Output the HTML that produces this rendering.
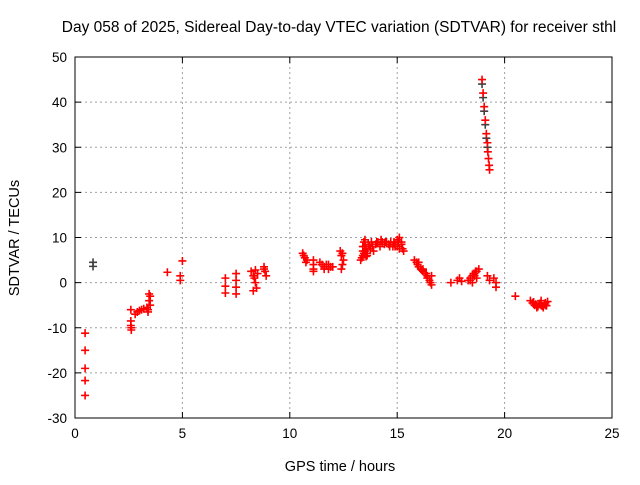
<!DOCTYPE html>
<html><head><meta charset="utf-8"><style>
body{margin:0;background:#fff;}
svg{font-family:"Liberation Sans",sans-serif;}
</style></head><body>
<svg id="chart" width="640" height="480">
<text x="339" y="32" text-anchor="middle" font-size="15.5">Day 058 of 2025, Sidereal Day-to-day VTEC variation (SDTVAR) for receiver sthl</text>
<text x="340" y="471" text-anchor="middle" font-size="14.5">GPS time / hours</text>
<text x="19" y="238" text-anchor="middle" font-size="14.5" transform="rotate(-90 19 238)">SDTVAR / TECUs</text>
<g id="grid"></g><g id="axes"></g><g id="pts"></g>
</svg>
<script>
const xTicks=[0,5,10,15,20,25];
const yTicks=[-30,-20,-10,0,10,20,30,40,50];
const redT=[0.47,0.47,0.47,0.47,0.47,
2.6,2.6,2.6,2.62,2.62,2.8,2.9,3.0,3.1,3.2,3.35,3.4,3.45,3.5,3.45,3.4,3.5,
4.3,4.9,4.9,5.0,
7.0,7.0,7.0,7.5,7.5,7.5,7.5,
8.2,8.3,8.35,8.4,8.45,8.3,8.4,8.5,8.8,8.85,8.9,8.8,
10.6,10.7,10.8,10.75,10.65,11.1,11.1,11.1,11.1,
11.4,11.5,11.6,11.7,11.8,11.9,12.0,11.6,11.8,
12.35,12.4,12.45,12.4,12.5,12.45,
13.3,13.4,13.5,13.4,13.6,13.7,13.8,13.5,13.9,14.0,14.1,14.2,14.3,14.4,14.5,14.6,14.7,14.8,14.9,15.0,15.1,15.2,15.0,15.1,15.2,15.3,14.9,
13.35,13.45,13.55,13.65,13.4,13.5,13.6,13.75,13.85,14.05,14.25,14.45,14.65,14.85,15.05,15.25,13.45,13.55,
15.8,15.9,16.0,16.1,16.2,16.3,16.4,16.5,16.6,16.6,16.0,16.2,16.4,15.95,16.15,16.35,16.55,
17.5,17.8,17.9,18.0,
18.3,18.4,18.5,18.6,18.7,18.8,18.5,18.7,18.4,18.6,18.55,18.65,
19.2,19.3,19.5,19.6,19.6,
18.95,19.0,19.05,19.1,19.15,19.2,19.22,19.25,19.28,19.3,
20.5,
21.2,21.3,21.4,21.5,21.6,21.7,21.8,21.9,22.0,21.5,21.7,21.9,21.35,21.45,21.55,21.65,21.75,21.85,21.95];
const redV=[-11.2,-15,-19,-21.7,-25,
-6,-8.5,-9.5,-10,-10.5,-7,-6.5,-6.2,-6,-5.8,-5.5,-6,-4,-3,-2.5,-6.5,-5,
2.3,1.5,0.5,4.8,
1,-0.8,-2.3,2,0.5,-1,-2.5,
2.5,1.5,1,0,-1.2,-1.8,2.8,2,3.5,2.5,1.5,3,
6.5,5.5,5,4.5,6,5,4,3,2.5,
4.5,4,3.5,4,3,3.5,3.5,3,4,
7,6,4,3,5,6.5,
5,6,7,8,6.5,8,9,9.5,7,8.5,9,8,9,8.5,9,8.5,9,8,8.5,9.5,10,9,8,7.5,8.5,7,8,
5.5,6.5,7.5,8.5,7,8,6,7.5,8,9,9.5,9,8,9,9,7.5,9,5.8,
5,4.5,3.5,3,2.5,2,1.5,0.5,-0.5,1.5,4.5,3,1,4,2.8,2,0,
0,0.5,1,0.3,
0.5,1,1.5,2,2.5,3,0,1,0.5,1.5,2,2.5,
1.5,0.5,1,0,-1,
45,42,39,36,33,31,29,27.5,26,25,
-3,
-4,-4.5,-5,-5.2,-4.8,-5,-5.5,-4.5,-4.2,-5.5,-4,-5,-4.3,-4.8,-5.3,-4.6,-5.2,-4.7,-5.1];
const grayT=[0.84,0.84,18.95,19.0,19.05,19.1,19.15,19.2];
const grayV=[4.5,3.6,44,41,38,35,32,30];
const L=75,R=612,T=57,B=418;
const X=h=>L+(h-0)/25*(R-L);
const Y=v=>B-(v+30)/80*(B-T);
const NS='http://www.w3.org/2000/svg';
function mk(tag,attrs,parent){const e=document.createElementNS(NS,tag);for(const k in attrs)e.setAttribute(k,attrs[k]);parent.appendChild(e);return e;}
const grid=document.getElementById('grid'),axes=document.getElementById('axes'),pts=document.getElementById('pts');
xTicks.forEach(t=>{
 if(t>0&&t<25){const g=mk('line',{x1:X(t),x2:X(t),y1:T,y2:B,stroke:'#a0a0a0','stroke-dasharray':'2,3'},grid);
 
 }
 mk('line',{x1:X(t),x2:X(t),y1:B,y2:B-6,stroke:'#000'},axes);
 mk('line',{x1:X(t),x2:X(t),y1:T,y2:T+6,stroke:'#000'},axes);
 const tx=mk('text',{x:X(t),y:B+20,'text-anchor':'middle','font-size':13.5},axes);tx.textContent=t;
 
 
});
yTicks.forEach(t=>{
 if(t>-30&&t<50){const g=mk('line',{x1:L,x2:R,y1:Y(t),y2:Y(t),stroke:'#a0a0a0','stroke-dasharray':'2,3'},grid);
 
 }
 mk('line',{x1:L,x2:L+6,y1:Y(t),y2:Y(t),stroke:'#000'},axes);
 mk('line',{x1:R,x2:R-6,y1:Y(t),y2:Y(t),stroke:'#000'},axes);
 const tx=mk('text',{x:L-8,y:Y(t)+5,'text-anchor':'end','font-size':13.5},axes);tx.textContent=t;
 
 
});
const fr=mk('rect',{x:L,y:T,width:R-L,height:B-T,fill:'none',stroke:'#000'},axes);


function plus(h,v,c,name){
 const x=X(h),y=Y(v);
 const p=mk('path',{d:`M${x-4},${y}H${x+4}M${x},${y-4}V${y+4}`,stroke:c,'stroke-width':1.6,fill:'none'},pts);
 
 
}
grayT.forEach((h,i)=>plus(h,grayV[i],'#404040','gray-point'));
redT.forEach((h,i)=>plus(h,redV[i],'#ff0000','red-point'));
</script>
</body></html>
